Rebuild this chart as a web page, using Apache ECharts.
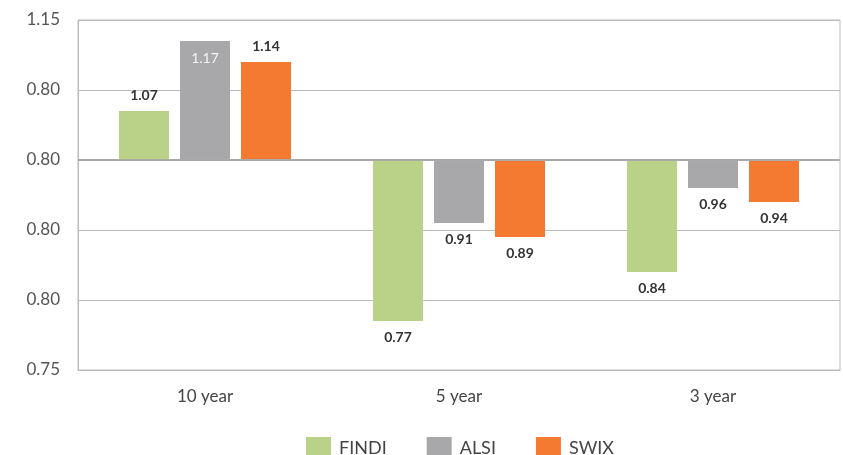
<!DOCTYPE html>
<html>
<head>
<meta charset="utf-8">
<style>
  html, body { margin: 0; padding: 0; background: #fff; }
  #main { width: 843px; height: 455px; }
</style>
<script src="https://cdn.jsdelivr.net/npm/echarts@6/dist/echarts.min.js"></script>
</head>
<body>
<div id="main"></div>
<script>
  const categories = ['10 year', '5 year', '3 year']
  const findi = [1.07, 0.77, 0.84]
  const alsi = [1.17, 0.91, 0.96]
  const swix = [1.14, 0.89, 0.94]
  // tick labels as printed on the original, bottom to top
  const yTickLabels = ['0.75', '0.80', '0.80', '0.80', '0.80', '1.15']

  const baseValue = 1.0
  const fontFamily = 'Lato, "Open Sans", sans-serif'

  // bars grow from 1.0, so plot the distance from it
  function toBars(values, insideIdx) {
    return values.map((v, i) => {
      const item = { value: +(v - baseValue).toFixed(4), raw: v }
      if (i === insideIdx) {
        item.label = { position: 'insideTop', color: '#f4f4f4', fontWeight: 'normal', distance: 10 }
      } else {
        item.label = { position: v >= baseValue ? 'top' : 'bottom' }
      }
      return item
    })
  }

  const labelStyle = {
    show: true,
    distance: 9,
    fontFamily,
    fontSize: 14,
    fontWeight: 'bold',
    color: '#333',
    formatter: p => p.data.raw.toFixed(2)
  }

  const chart = echarts.init(document.getElementById('main'))
  chart.setOption({
    animation: false,
    textStyle: { fontFamily },
    grid: {
      left: 78,
      right: 3,
      top: 20,
      bottom: 85,
      outerBoundsMode: 'none',
      show: true,
      borderColor: '#bbb',
      borderWidth: 1
    },
    legend: {
      top: 432,
      left: 301,
      icon: 'rect',
      itemWidth: 25,
      itemHeight: 23,
      itemGap: 40,
      textStyle: { fontSize: 18, color: '#444', fontFamily, padding: [0, 0, 0, 3] },
      data: ['FINDI', 'ALSI', 'SWIX']
    },
    xAxis: {
      type: 'category',
      data: categories,
      axisLine: { onZero: false, lineStyle: { color: '#bbb' } },
      axisTick: { length: 10, lineStyle: { color: '#bbb' } },
      axisLabel: { color: '#444', fontSize: 17, margin: 18, fontFamily }
    },
    yAxis: {
      type: 'value',
      min: -0.3,
      max: 0.2,
      interval: 0.1,
      axisLine: { show: true, lineStyle: { color: '#bbb' } },
      axisTick: { show: false },
      splitLine: { lineStyle: { color: '#bbb' } },
      axisLabel: {
        color: '#555',
        fontSize: 17,
        margin: 18,
        fontFamily,
        formatter: (val, idx) => yTickLabels[idx]
      }
    },
    series: [
      {
        name: 'FINDI',
        type: 'bar',
        barWidth: 50,
        barGap: '22%',
        itemStyle: { color: '#b9d287' },
        label: labelStyle,
        data: toBars(findi, -1),
        markLine: {
          silent: true,
          symbol: 'none',
          label: { show: false },
          lineStyle: { color: '#aaa', type: 'solid', width: 2 },
          data: [{ yAxis: 0 }]
        }
      },
      {
        name: 'ALSI',
        type: 'bar',
        barWidth: 50,
        barGap: '22%',
        itemStyle: { color: '#a8a8ab' },
        label: labelStyle,
        data: toBars(alsi, 0)
      },
      {
        name: 'SWIX',
        type: 'bar',
        barWidth: 50,
        barGap: '22%',
        itemStyle: { color: '#f47a32' },
        label: labelStyle,
        data: toBars(swix, -1)
      }
    ]
  })
</script>
</body>
</html>
